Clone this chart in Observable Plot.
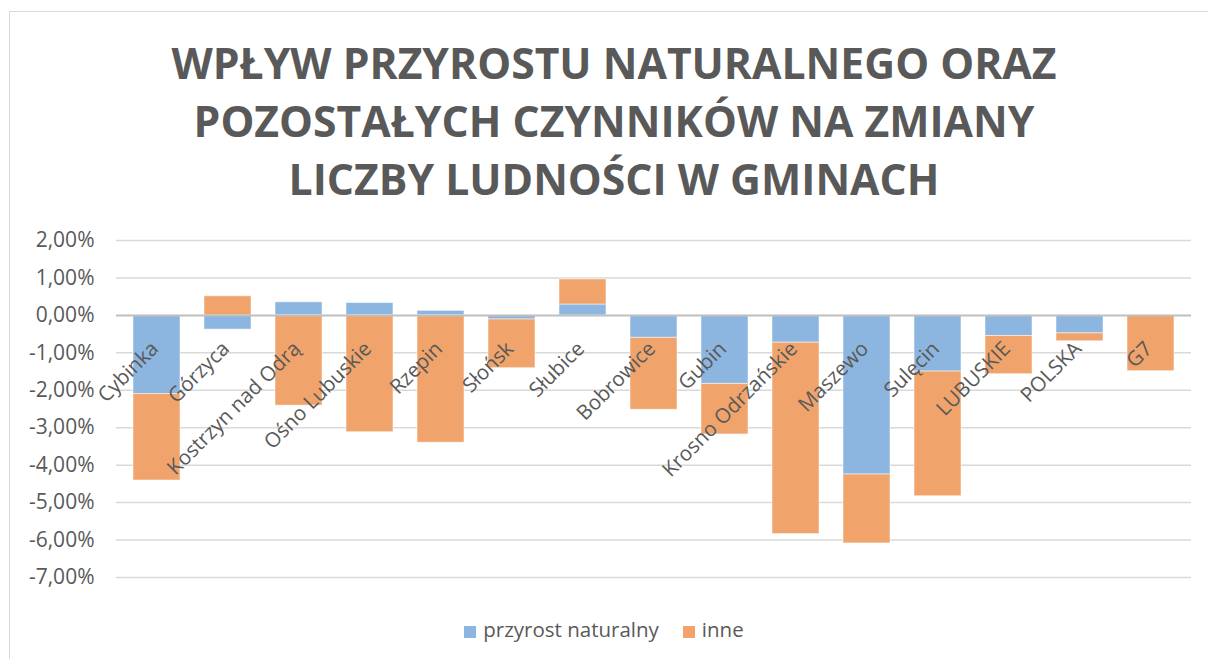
<!DOCTYPE html>
<html>
<head>
<meta charset="utf-8">
<script src="https://cdn.jsdelivr.net/npm/d3@7"></script>
<script src="https://cdn.jsdelivr.net/npm/@observablehq/plot@0.6"></script>
<style>
  html, body { margin: 0; padding: 0; background: #fff; width: 1208px; height: 659px; overflow: hidden; font-family: "Open Sans", sans-serif; }
  #frame { position: absolute; left: 9px; top: 11px; width: 1230px; height: 700px; border: 1px solid #d9d9d9; box-sizing: border-box; }
  #title { position: absolute; left: 0; top: 34px; width: 1228px; text-align: center; font-weight: 700; font-size: 42.7px; line-height: 58px; color: #595959; }
  #chart { position: absolute; left: 0; top: 220px; }
  #legend { position: absolute; left: 0; top: 615px; width: 1208px; text-align: center; font-size: 20.5px; color: #595959; }
  #legend span.sw { display: inline-block; width: 12px; height: 12px; margin-right: 7px; vertical-align: -1px; }
  #legend span.item { margin: 0 12px; }
</style>
</head>
<body>
<div id="frame"></div>
<div id="title">WPŁYW PRZYROSTU NATURALNEGO ORAZ<br>POZOSTAŁYCH CZYNNIKÓW NA ZMIANY<br>LICZBY LUDNOŚCI W GMINACH</div>
<div id="chart"></div>
<div id="legend"></div>
<script>
const categories = ["Cybinka", "Górzyca", "Kostrzyn nad Odrą", "Ośno Lubuskie", "Rzepin", "Słońsk", "Słubice", "Bobrowice", "Gubin", "Krosno Odrzańskie", "Maszewo", "Sulęcin", "LUBUSKIE", "POLSKA", "G7"];
const przyrostNaturalny = [-2.10, -0.38, 0.35, 0.33, 0.12, -0.11, 0.29, -0.60, -1.83, -0.73, -4.25, -1.50, -0.55, -0.48, 0.00];
const inne = [-2.31, 0.51, -2.41, -3.12, -3.40, -1.30, 0.67, -1.92, -1.35, -5.11, -1.84, -3.33, -1.02, -0.21, -1.49];
const seriesNames = ["przyrost naturalny", "inne"];
const seriesColors = ["#8CB6E0", "#F0A46C"];
const yTicks = [2, 1, 0, -1, -2, -3, -4, -5, -6, -7];

const rows = [];
categories.forEach((c, i) => {
  rows.push({category: c, series: seriesNames[0], value: przyrostNaturalny[i]});
  rows.push({category: c, series: seriesNames[1], value: inne[i]});
});

const fmt = v => (v < 0 ? "-" : "") + Math.abs(v).toFixed(2).replace(".", ",") + "%";

const chart = Plot.plot({
  width: 1208,
  height: 400,
  marginTop: 20,
  marginBottom: 43,
  marginLeft: 116,
  marginRight: 17,
  style: {fontFamily: "Open Sans, sans-serif", fontSize: "21px", color: "#595959", background: "transparent"},
  x: {domain: categories, paddingInner: 0.34, paddingOuter: 0.17, axis: null},
  y: {domain: [-7, 2], ticks: yTicks, tickFormat: fmt, tickSize: 0, tickPadding: 22, label: null},
  color: {domain: seriesNames, range: seriesColors},
  marks: [
    Plot.ruleY(yTicks.filter(d => d !== 0), {stroke: "#d9d9d9", strokeWidth: 1.5}),
    Plot.barY(rows, {x: "category", y: "value", fill: "series", stroke: "#ffffff", strokeOpacity: 0.5, strokeWidth: 1}),
    Plot.ruleY([0], {stroke: "#bfbfbf", strokeWidth: 2}),
    Plot.axisY({ticks: yTicks, tickFormat: fmt, tickSize: 0, tickPadding: 22, fill: "#595959", fontSize: 21, label: null}),
    Plot.text(categories, {x: d => d, y: () => 0, text: d => d, rotate: -45, textAnchor: "end", lineAnchor: "middle", dx: -2, dy: 30, fill: "#595959", fontSize: 20.5})
  ]
});
document.getElementById("chart").appendChild(chart);

const legend = document.getElementById("legend");
legend.innerHTML = seriesNames.map((s, i) => `<span class="item"><span class="sw" style="background:${seriesColors[i]}"></span>${s}</span>`).join("");
</script>
</body>
</html>
